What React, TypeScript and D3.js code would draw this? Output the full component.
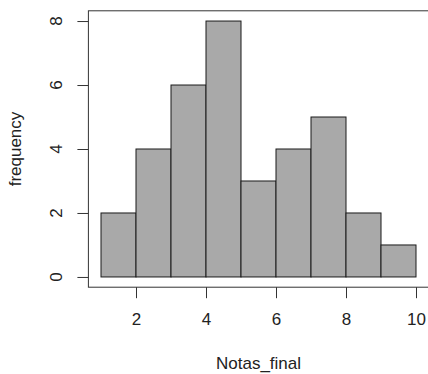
import React, { useEffect, useRef } from "react";
import * as d3 from "d3";

const binStarts = [1, 2, 3, 4, 5, 6, 7, 8, 9];
const binWidth = 1;
const counts = [2, 4, 6, 8, 3, 4, 5, 2, 1];
const xTicks = [2, 4, 6, 8, 10];
const yTicks = [0, 2, 4, 6, 8];

const W = 428, H = 374;

export default function App() {
    const ref = useRef<SVGSVGElement>(null);

    useEffect(() => {
        const svg = d3.select(ref.current);
        svg.selectAll("*").remove();

        // R style: 4% padding around data range
        let x = d3.scaleLinear().domain([0.64, 10.36]).range([88.4, 428.6]),
            y = d3.scaleLinear().domain([-0.32, 8.32]).range([287.2, 10.8]);

        const font = "'Liberation Sans', Arial, sans-serif";
        const fs = "17px";

        svg.append("g")
            .selectAll("rect")
            .data(binStarts)
            .enter()
                .append("rect")
                    .attr("x", (d) => x(d))
                    .attr("y", (d, i) => y(counts[i]))
                    .attr("width", (d) => x(d + binWidth) - x(d))
                    .attr("height", (d, i) => y(0) - y(counts[i]))
                    .attr("fill", "#a9a9a9")
                    .attr("stroke", "#1a1a1a")
                    .attr("stroke-width", 1);

        // box
        svg.append("rect")
            .attr("x", x(0.64))
            .attr("y", y(8.32))
            .attr("width", x(10.36) - x(0.64))
            .attr("height", y(-0.32) - y(8.32))
            .attr("fill", "none")
            .attr("stroke", "#333")
            .attr("stroke-width", 1);

        const yAxis = d3.axisLeft(y).tickValues(yTicks).tickSize(11).tickFormat(() => "");
        const gy = svg.append("g").attr("transform", `translate(${x(0.64)},0)`).call(yAxis);
        gy.select(".domain").remove();
        gy.selectAll("line").attr("stroke", "#333");
        yTicks.forEach((t) => {
            svg.append("text")
                .attr("transform", `translate(${x(0.64) - 32},${y(t)}) rotate(-90)`)
                .attr("text-anchor", "middle")
                .attr("dy", "0.35em")
                .style("font-family", font).style("font-size", fs).attr("fill", "#222")
                .text(t);
        });

        const xAxis = d3.axisBottom(x).tickValues(xTicks).tickSize(11).tickPadding(15).tickFormat(d3.format("d"));
        const gx = svg.append("g").attr("transform", `translate(0,${y(-0.32)})`).call(xAxis);
        gx.select(".domain").remove();
        gx.selectAll("line").attr("stroke", "#333");
        gx.selectAll("text")
            .style("font-family", font).style("font-size", fs).attr("fill", "#222");

        svg.append("text")
            .attr("x", (x(0.64) + x(10.36)) / 2)
            .attr("y", 369)
            .attr("text-anchor", "middle")
            .style("font-family", font).style("font-size", fs).attr("fill", "#222")
            .text("Notas_final");

        svg.append("text")
            .attr("transform", `translate(15,${(y(-0.32) + y(8.32)) / 2}) rotate(-90)`)
            .attr("text-anchor", "middle")
            .attr("dy", "0.35em")
            .style("font-family", font).style("font-size", fs).attr("fill", "#222")
            .text("frequency");
    });

    return (
        <svg ref={ref} width={W} height={H}
             style={{ position: "absolute", left: 0, top: 0, background: "#fff" }} />
    );
}
